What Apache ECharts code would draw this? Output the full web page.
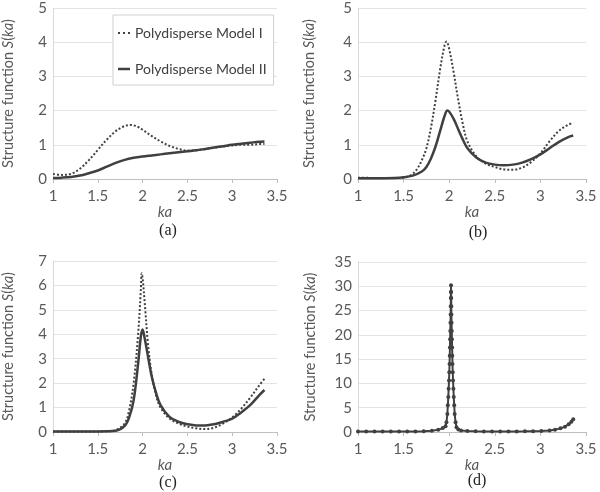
<!DOCTYPE html>
<html>
<head>
<meta charset="utf-8">
<script src="https://cdn.jsdelivr.net/npm/echarts@6/dist/echarts.min.js"></script>
<style>
html,body{margin:0;padding:0;background:#fff;}
#c{width:600px;height:492px;}
</style>
</head>
<body>
<div id="c"></div>
<script>
// ---- Data ----
var seriesNames = ['Polydisperse Model I', 'Polydisperse Model II'];
var panelLabels = ['(a)', '(b)', '(c)', '(d)'];
var xTicks = [1, 1.5, 2, 2.5, 3, 3.5];
var yMaxA = 5, yMaxB = 5, yMaxC = 7, yMaxD = 35;

// Panel (a)
var kaA1 = [1.0, 1.1, 1.2, 1.3, 1.4, 1.5, 1.6, 1.7, 1.8, 1.87, 1.95, 2.0, 2.1, 2.2, 2.3, 2.4, 2.5, 2.6, 2.7, 2.8, 2.9, 3.0, 3.1, 3.2, 3.3, 3.36];
var sA1  = [0.15, 0.12, 0.15, 0.3, 0.55, 0.85, 1.15, 1.4, 1.55, 1.58, 1.52, 1.44, 1.26, 1.1, 0.97, 0.88, 0.83, 0.84, 0.88, 0.92, 0.95, 0.98, 1.0, 1.0, 1.02, 1.02];
var kaA2 = [1.0, 1.1, 1.2, 1.3, 1.4, 1.5, 1.6, 1.7, 1.8, 1.9, 2.0, 2.1, 2.2, 2.3, 2.4, 2.5, 2.6, 2.7, 2.8, 2.9, 3.0, 3.1, 3.2, 3.3, 3.36];
var sA2  = [0.03, 0.04, 0.06, 0.1, 0.17, 0.25, 0.36, 0.47, 0.56, 0.62, 0.66, 0.69, 0.72, 0.75, 0.78, 0.81, 0.84, 0.88, 0.92, 0.96, 1.0, 1.03, 1.06, 1.09, 1.1];

// Panel (b)
var kaB1 = [1.0, 1.2, 1.4, 1.5, 1.55, 1.6, 1.65, 1.7, 1.75, 1.8, 1.85, 1.9, 1.95, 1.97, 2.0, 2.05, 2.1, 2.15, 2.2, 2.3, 2.4, 2.5, 2.6, 2.7, 2.8, 2.9, 3.0, 3.1, 3.2, 3.3, 3.36];
var sB1  = [0.04, 0.03, 0.03, 0.04, 0.08, 0.15, 0.3, 0.55, 0.9, 1.5, 2.3, 3.2, 3.92, 4.02, 3.8, 3.1, 2.3, 1.6, 1.1, 0.65, 0.45, 0.35, 0.28, 0.27, 0.33, 0.5, 0.75, 1.1, 1.4, 1.58, 1.64];
var kaB2 = [1.0, 1.2, 1.4, 1.5, 1.6, 1.7, 1.75, 1.8, 1.85, 1.9, 1.95, 1.98, 2.0, 2.05, 2.1, 2.15, 2.2, 2.3, 2.4, 2.5, 2.6, 2.7, 2.8, 2.9, 3.0, 3.1, 3.2, 3.3, 3.36];
var sB2  = [0.02, 0.02, 0.03, 0.05, 0.1, 0.22, 0.35, 0.6, 0.95, 1.4, 1.85, 2.0, 1.97, 1.75, 1.45, 1.15, 0.9, 0.62, 0.48, 0.42, 0.4, 0.42, 0.48, 0.58, 0.72, 0.9, 1.08, 1.22, 1.27];

// Panel (c)
var kaC1 = [1.0, 1.2, 1.4, 1.6, 1.7, 1.8, 1.85, 1.9, 1.95, 1.98, 1.99, 2.0, 2.03, 2.06, 2.1, 2.15, 2.2, 2.3, 2.4, 2.5, 2.6, 2.7, 2.8, 2.9, 3.0, 3.1, 3.2, 3.3, 3.36];
var sC1  = [0.02, 0.02, 0.02, 0.03, 0.08, 0.35, 0.9, 2.0, 4.0, 5.8, 6.5, 6.3, 5.0, 3.6, 2.4, 1.5, 1.0, 0.55, 0.35, 0.22, 0.15, 0.12, 0.18, 0.35, 0.6, 0.95, 1.4, 1.9, 2.18];
var kaC2 = [1.0, 1.2, 1.4, 1.6, 1.7, 1.8, 1.85, 1.9, 1.95, 1.98, 2.0, 2.02, 2.05, 2.1, 2.15, 2.2, 2.3, 2.4, 2.5, 2.6, 2.7, 2.8, 2.9, 3.0, 3.1, 3.2, 3.3, 3.36];
var sC2  = [0.02, 0.02, 0.02, 0.03, 0.05, 0.25, 0.6, 1.3, 2.8, 3.9, 4.2, 3.9, 3.3, 2.3, 1.6, 1.1, 0.62, 0.42, 0.32, 0.27, 0.27, 0.32, 0.42, 0.55, 0.8, 1.1, 1.5, 1.72];

// Panel (d)
var kaD = [1.0, 1.09, 1.18, 1.27, 1.36, 1.45, 1.54, 1.63, 1.72, 1.81, 1.88, 1.93, 1.96, 1.97, 1.98, 1.985, 1.99, 1.994, 1.998, 2.001, 2.004, 2.006, 2.008, 2.010, 2.012, 2.014, 2.016, 2.017, 2.018, 2.019, 2.02,
           2.021, 2.022, 2.023, 2.024, 2.026, 2.028, 2.030, 2.032, 2.034, 2.036, 2.039, 2.042, 2.046, 2.05, 2.055, 2.06, 2.07, 2.08, 2.1, 2.13, 2.2,
           2.29, 2.38, 2.47, 2.56, 2.65, 2.74, 2.83, 2.92, 3.01, 3.1, 3.16, 3.22, 3.27, 3.31, 3.34, 3.36];
var sD  = [0.1, 0.1, 0.1, 0.1, 0.1, 0.1, 0.1, 0.12, 0.15, 0.25, 0.45, 0.8, 1.2, 2.0, 3.7, 5.5, 7.2, 8.9, 10.6, 12.3, 14.0, 15.7, 17.4, 19.1, 20.8, 22.5, 24.2, 25.9, 27.6, 28.8, 30.2,
           28.8, 27.6, 25.9, 24.2, 22.5, 20.8, 19.1, 17.4, 15.7, 14.0, 12.3, 10.6, 8.9, 7.2, 5.5, 3.7, 2.0, 1.0, 0.5, 0.3, 0.2,
           0.15, 0.12, 0.12, 0.12, 0.12, 0.12, 0.13, 0.15, 0.2, 0.3, 0.45, 0.75, 1.1, 1.6, 2.1, 2.6];

function zip(xs, ys) { return xs.map(function (x, i) { return [x, ys[i]]; }); }

var FONT = 'Lato';
var TXT = '#595959';
var LINE = '#404040';

var grids = [
  { left: 49, top: 8, width: 228, height: 171 },
  { left: 358, top: 8, width: 228, height: 171 },
  { left: 49, top: 261, width: 228, height: 171 },
  { left: 358, top: 262, width: 228, height: 170 }
];
var yMaxes = [yMaxA, yMaxB, yMaxC, yMaxD];
var yIntervals = [1, 1, 1, 5];
var yNameGaps = [37, 41, 37, 40];

var xAxes = grids.map(function (g, i) {
  return {
    gridIndex: i, type: 'value', min: xTicks[0], max: xTicks[xTicks.length - 1], interval: 0.5,
    axisLine: { show: true, lineStyle: { color: '#bfbfbf', width: 1 } },
    axisTick: { show: true, length: 4, lineStyle: { color: '#bfbfbf' } },
    splitLine: { show: false },
    axisLabel: { color: TXT, fontFamily: FONT, fontSize: 15, margin: 10 },
    name: '{i|ka}', nameLocation: 'middle', nameGap: 26,
    nameTextStyle: { rich: { i: { fontStyle: 'italic', fontFamily: FONT, fontSize: 15, color: TXT } } }
  };
});
var yAxes = grids.map(function (g, i) {
  return {
    gridIndex: i, type: 'value', min: 0, max: yMaxes[i], interval: yIntervals[i],
    axisLine: { show: true, lineStyle: { color: '#d9d9d9', width: 1 } },
    axisTick: { show: false },
    splitLine: { show: true, lineStyle: { color: '#e3e3e3', width: 1 } },
    axisLabel: { color: TXT, fontFamily: FONT, fontSize: 15, margin: 6 },
    name: '{n|Structure function }{i|S}{n|(}{i|ka}{n|)}', nameLocation: 'middle', nameGap: yNameGaps[i],
    nameTextStyle: { rich: {
      n: { fontFamily: FONT, fontSize: 14.5, color: TXT },
      i: { fontFamily: FONT, fontSize: 14.5, color: TXT, fontStyle: 'italic' }
    } }
  };
});

function lineSeries(name, idx, data, dotted) {
  return {
    name: name, type: 'line', xAxisIndex: idx, yAxisIndex: idx, data: data,
    smooth: 0.35, symbol: 'none', showSymbol: false, animation: false,
    lineStyle: { color: LINE, width: dotted ? 2 : 2.5, type: dotted ? 'dotted' : 'solid' },
    itemStyle: { color: LINE }
  };
}

var series = [
  lineSeries(seriesNames[0], 0, zip(kaA1, sA1), true),
  lineSeries(seriesNames[1], 0, zip(kaA2, sA2), false),
  lineSeries(seriesNames[0], 1, zip(kaB1, sB1), true),
  lineSeries(seriesNames[1], 1, zip(kaB2, sB2), false),
  lineSeries(seriesNames[0], 2, zip(kaC1, sC1), true),
  lineSeries(seriesNames[1], 2, zip(kaC2, sC2), false),
  {
    name: 'd', type: 'line', xAxisIndex: 3, yAxisIndex: 3, data: zip(kaD, sD),
    symbol: 'circle', symbolSize: 4, showSymbol: true, animation: false,
    lineStyle: { color: LINE, width: 2 }, itemStyle: { color: LINE }
  }
];

var captionPos = [[163, 218], [473, 220], [163, 470], [472, 468]];
var titles = panelLabels.map(function (t, i) {
  return {
    text: t, left: captionPos[i][0], top: captionPos[i][1], textAlign: 'center',
    textStyle: { fontFamily: 'Liberation Serif', fontSize: 16, fontWeight: 'normal', color: '#222' }
  };
});

var chart = echarts.init(document.getElementById('c'), null, { renderer: 'canvas' });
chart.setOption({
  backgroundColor: '#fff',
  animation: false,
  title: titles,
  grid: grids,
  xAxis: xAxes,
  yAxis: yAxes,
  legend: {
    data: [
      { name: seriesNames[0], icon: 'path://M0,0h2v2h-2z M5,0h2v2h-2z M10,0h2v2h-2z' },
      { name: seriesNames[1], icon: 'path://M0,0h12v2.5h-12z' }
    ],
    orient: 'vertical', left: 113, top: 15,
    itemWidth: 12, itemHeight: 14, itemGap: 22,
    padding: [11, 7, 9, 5],
    borderColor: '#d0d0d0', borderWidth: 1, backgroundColor: '#fff',
    itemStyle: { color: LINE, borderWidth: 0 },
    textStyle: { fontFamily: FONT, fontSize: 14, color: LINE }
  },
  series: series
});
</script>
</body>
</html>
